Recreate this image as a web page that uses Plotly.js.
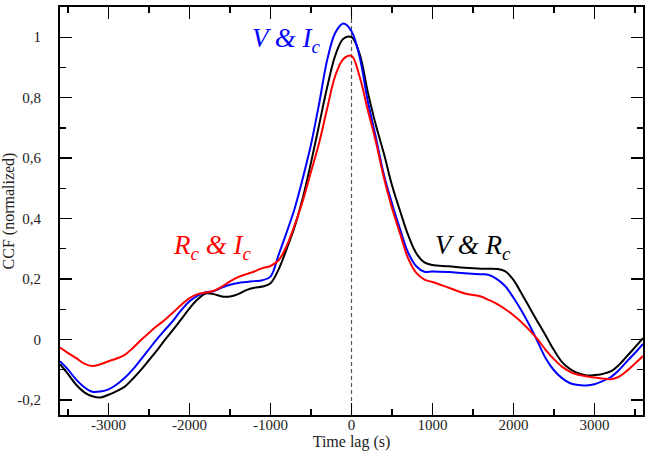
<!DOCTYPE html>
<html>
<head>
<meta charset="utf-8">
<script src="https://cdn.plot.ly/plotly-3.0.1.min.js"></script>
<style>html,body{margin:0;padding:0;background:#fff;}#chart{width:645px;height:459px;}</style>
</head>
<body>
<div id="chart"></div>
<script>
// Time lag (s)
const lags = [-3600,-3500,-3400,-3300,-3200,-3100,-3000,-2900,-2800,-2700,-2600,-2500,-2400,-2300,-2200,-2100,-2000,-1900,-1800,-1700,-1600,-1500,-1400,-1300,-1200,-1100,-1000,-900,-800,-700,-600,-500,-400,-300,-200,-100,0,100,200,300,400,500,600,700,800,900,1000,1200,1400,1600,1700,1800,1900,2000,2100,2200,2300,2400,2500,2600,2700,2800,2900,3000,3100,3200,3300,3400,3500,3600];

// V & Rc (black)
const ccfVRc = [-0.082,-0.115,-0.150,-0.175,-0.188,-0.192,-0.183,-0.171,-0.156,-0.130,-0.101,-0.068,-0.035,0.000,0.033,0.068,0.103,0.133,0.152,0.150,0.142,0.142,0.150,0.163,0.171,0.175,0.186,0.232,0.300,0.375,0.470,0.585,0.710,0.835,0.940,0.995,1.000,0.945,0.820,0.710,0.615,0.510,0.425,0.345,0.285,0.255,0.246,0.242,0.237,0.234,0.234,0.233,0.225,0.197,0.152,0.105,0.058,0.012,-0.035,-0.075,-0.098,-0.112,-0.119,-0.118,-0.114,-0.106,-0.085,-0.056,-0.026,0.004];

// V & Ic (blue)
const ccfVIc = [-0.072,-0.100,-0.133,-0.158,-0.173,-0.172,-0.165,-0.149,-0.127,-0.099,-0.066,-0.032,0.002,0.033,0.063,0.098,0.126,0.145,0.156,0.160,0.172,0.181,0.187,0.190,0.193,0.196,0.208,0.280,0.355,0.435,0.535,0.645,0.780,0.925,1.015,1.045,1.020,0.935,0.790,0.670,0.545,0.450,0.365,0.287,0.242,0.224,0.225,0.223,0.219,0.216,0.213,0.199,0.176,0.138,0.095,0.046,-0.008,-0.063,-0.102,-0.128,-0.145,-0.151,-0.152,-0.148,-0.138,-0.125,-0.102,-0.073,-0.045,-0.015];

// Rc & Ic (red)
const ccfRcIc = [-0.027,-0.045,-0.062,-0.080,-0.088,-0.082,-0.072,-0.063,-0.051,-0.028,-0.002,0.022,0.045,0.066,0.090,0.115,0.137,0.150,0.155,0.161,0.175,0.192,0.206,0.216,0.225,0.236,0.243,0.262,0.310,0.380,0.460,0.555,0.650,0.765,0.873,0.928,0.938,0.870,0.760,0.655,0.535,0.435,0.350,0.268,0.220,0.198,0.190,0.171,0.152,0.142,0.130,0.117,0.100,0.080,0.057,0.030,0.000,-0.035,-0.065,-0.090,-0.107,-0.117,-0.122,-0.126,-0.129,-0.132,-0.124,-0.104,-0.080,-0.055];

const xTickVals = [-3000,-2000,-1000,0,1000,2000,3000];
const xTickText = ["-3000","-2000","-1000","0","1000","2000","3000"];
const yTickVals = [-0.2,0,0.2,0.4,0.6,0.8,1];
const yTickText = ["-0,2","0","0,2","0,4","0,6","0,8","1"];

const serif = "Liberation Serif, Times New Roman, serif";

const traces = [
  {x: lags, y: ccfVRc, mode: "lines", line: {color: "#000000", width: 2, shape: "spline", smoothing: 1}, name: "V & Rc"},
  {x: lags, y: ccfVIc, mode: "lines", line: {color: "#0000ff", width: 2, shape: "spline", smoothing: 1}, name: "V & Ic"},
  {x: lags, y: ccfRcIc, mode: "lines", line: {color: "#ff0000", width: 2, shape: "spline", smoothing: 1}, name: "Rc & Ic"}
];

const axisCommon = {
  showline: true, linewidth: 2, linecolor: "#000", mirror: "ticks",
  ticks: "inside", ticklen: 12, tickwidth: 1.3, tickcolor: "#000",
  showgrid: false, zeroline: false,
  tickfont: {family: serif, size: 15, color: "#222"}
};

const layout = {
  width: 645, height: 459,
  margin: {l: 60, r: 2, t: 7, b: 44},
  paper_bgcolor: "#fff", plot_bgcolor: "#fff",
  showlegend: false,
  xaxis: Object.assign({}, axisCommon, {
    range: [-3600, 3600], tickmode: "array", tickvals: xTickVals, ticktext: xTickText,
    ticklabelstandoff: -5,
    minor: {dtick: 500, ticks: "inside", ticklen: 6, tickwidth: 1.3, tickcolor: "#000", showgrid: false},
    title: {text: "Time lag (s)", font: {family: serif, size: 16, color: "#222"}, standoff: 2}
  }),
  yaxis: Object.assign({}, axisCommon, {
    range: [-0.25, 1.1], tickmode: "array", tickvals: yTickVals, ticktext: yTickText,
    ticklabelstandoff: 14,
    minor: {dtick: 0.1, ticks: "inside", ticklen: 6, tickwidth: 1.3, tickcolor: "#000", showgrid: false},
    title: {text: "CCF (normalized)", font: {family: serif, size: 16, color: "#222"}, standoff: 0}
  }),
  shapes: [
    {type: "line", xref: "x", yref: "paper", x0: 0, x1: 0, y0: 0, y1: 1,
     line: {color: "#555", width: 1.2, dash: "4px,3px"}, layer: "below"}
  ],
  annotations: [
    {x: -800, y: 0.99, xref: "x", yref: "y", showarrow: false, xanchor: "center", yanchor: "middle",
     text: "<i>V &amp; I<sub>c</sub></i>", font: {family: serif, size: 27, color: "#0000ff"}},
    {x: -1724, y: 0.305, xref: "x", yref: "y", showarrow: false, xanchor: "center", yanchor: "middle",
     text: "<i>R<sub>c</sub> &amp; I<sub>c</sub></i>", font: {family: serif, size: 27, color: "#ff0000"}},
    {x: 1500, y: 0.305, xref: "x", yref: "y", showarrow: false, xanchor: "center", yanchor: "middle",
     text: "<i>V &amp; R<sub>c</sub></i>", font: {family: serif, size: 27, color: "#000000"}}
  ]
};

Plotly.newPlot("chart", traces, layout, {displayModeBar: false, staticPlot: true});
</script>
</body>
</html>
